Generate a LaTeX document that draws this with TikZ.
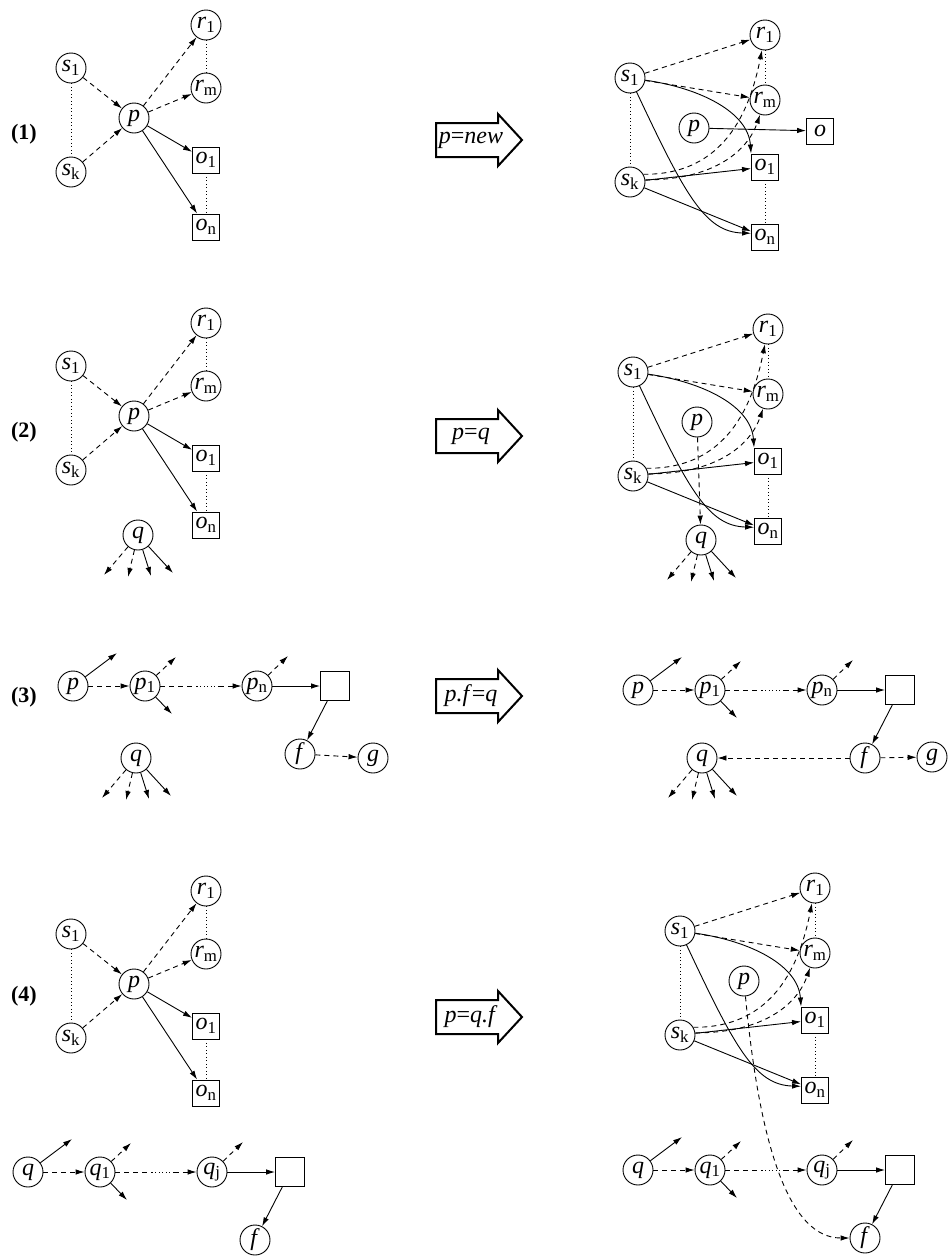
\documentclass[tikz,border=0pt]{standalone}
\usepackage{fontspec}
\setmainfont{Liberation Serif}
\usetikzlibrary{arrows.meta}

\newcommand{\vsub}[2]{\textit{#1}\textsubscript{#2}}

\tikzset{
  >={Latex[length=9pt,width=5.5pt]},
  vnode/.style={circle, draw, line width=0.9pt, minimum size=30pt, inner sep=0pt,
    font=\fontsize{24}{26}\selectfont},
  onode/.style={rectangle, draw, line width=0.9pt, minimum width=27pt, minimum height=26pt,
    inner sep=0pt, font=\fontsize{24}{26}\selectfont},
  dptr/.style={->, line width=0.9pt, dash pattern=on 5pt off 4pt},
  sptr/.style={->, line width=0.9pt},
  ellip/.style={line width=0.9pt, dash pattern=on 1pt off 2.5pt},
  stepno/.style={font=\fontsize{22}{24}\selectfont\bfseries},
  opbox/.style={line width=2pt, line join=miter},
  optext/.style={font=\fontsize{24}{26}\selectfont, inner sep=0pt},
}

\begin{document}
\begin{tikzpicture}[x=1pt, y=-1pt]
  \useasboundingbox (0,0) rectangle (948,1256);

  % ========== left column: before the statement ==========
  \foreach \dy/\nm in {0/La, 298/Lb, 866/Ld} {
    \begin{scope}[shift={(0,\dy)}, name prefix=\nm-]
      \node[vnode] (s1) at (71,68) {\vsub{s}{1}};
      \node[vnode] (sk) at (71,172) {\vsub{s}{k}};
      \node[vnode] (p) at (134,118) {\textit{p}};
      \node[vnode] (r1) at (206,25) {\vsub{r}{1}};
      \node[vnode] (rm) at (206,88) {\vsub{r}{m}};
      \node[onode] (o1) at (206,160) {\vsub{o}{1}};
      \node[onode] (on) at (206,227) {\vsub{o}{n}};
      \draw[ellip] (s1) -- (sk);
      \draw[ellip] (r1) -- (rm);
      \draw[ellip] (o1) -- (on);
      % references into p and out of p
      \draw[dptr] (s1) -- (p);
      \draw[dptr] (sk) -- (p);
      \draw[dptr] (p) -- (r1);
      \draw[dptr] (p) -- (rm);
      \draw[sptr] (p) -- (o1);
      \draw[sptr] (p) -- (on);
    \end{scope}
  }

  % ========== right column: after the statement ==========
  \foreach \dx/\dy/\nm in {0/0/Ra, 3/294/Rb, 50/853/Rd} {
    \begin{scope}[shift={(\dx,\dy)}, name prefix=\nm-]
      \node[vnode] (s1) at (630,78) {\vsub{s}{1}};
      \node[vnode] (sk) at (630,182) {\vsub{s}{k}};
      \node[vnode] (p) at (694,128) {\textit{p}};
      \node[vnode] (r1) at (765,35) {\vsub{r}{1}};
      \node[vnode] (rm) at (765,100) {\vsub{r}{m}};
      \node[onode] (o1) at (765,167) {\vsub{o}{1}};
      \node[onode] (on) at (765,237) {\vsub{o}{n}};
      \draw[ellip] (s1) -- (sk);
      \draw[ellip] (r1) -- (rm);
      \draw[ellip] (o1) -- (on);
      % edges of p handed over to the s nodes
      \draw[dptr] (s1) -- (r1);
      \draw[dptr] (s1) -- (rm);
      \draw[sptr] (s1) .. controls (700,88) and (748,112) .. (o1.north west);
      \draw[sptr] (s1) .. controls (685,195) and (705,232) .. (on.165);
      \draw[dptr] (sk.30) .. controls (725,175) and (750,110) .. (r1);
      \draw[dptr] (sk.8) .. controls (715,180) and (748,150) .. (rm);
      \draw[sptr] (sk) -- (o1);
      \draw[sptr] (sk) -- (on);
    \end{scope}
  }

  % ========== chains p, p1 ... pn (3) and q, q1 ... qj (4) ==========
  \foreach \x/\y/\v/\k/\nm in {73/686/p/n/Lc, 638/690/p/n/Rc, 28/1172/q/j/Ld, 638/1170/q/j/Rd} {
    \begin{scope}[name prefix=\nm-]
      \node[vnode] (n0) at (\x,\y) {\textit{\v}};
      \node[vnode] (n1) at (\x+72,\y) {\vsub{\v}{1}};
      \node[vnode] (n2) at (\x+184,\y) {\vsub{\v}{\k}};
      \node[onode, minimum width=29pt, minimum height=29pt] (box) at (\x+262,\y) {};
      \node[vnode] (f) at (\x+227,\y+68) {\textit{f}};
      \path (n0) ++(44,-33) coordinate (e0);
      \path (n1) ++(31,-29) coordinate (e1);
      \path (n1) ++(27,28) coordinate (e2);
      \path (n2) ++(31,-30) coordinate (e3);
      \path (n1) -- (n2) coordinate[pos=0.45] (m1) coordinate[pos=0.72] (m2);
      \draw[sptr] (n0) -- (e0);
      \draw[dptr] (n0) -- (n1);
      \draw[dptr] (n1) -- (e1);
      \draw[sptr] (n1) -- (e2);
      \draw[dptr, -] (n1) -- (m1);
      \draw[ellip] (m1) -- (m2);
      \draw[dptr] (m2) -- (n2);
      \draw[dptr] (n2) -- (e3);
      \draw[sptr] (n2) -- (box);
      \draw[sptr] (box) -- (f);
    \end{scope}
  }

  % ========== extra nodes per case ==========
  \node[onode] (Ra-o) at (820,131) {\textit{o}};
  \draw[sptr] (Ra-p) -- (Ra-o);

  \node[vnode] (Lb-q) at (138,535) {\textit{q}};
  \node[vnode] (Rb-q) at (701,540) {\textit{q}};
  \draw[dptr] (Rb-p) -- (Rb-q);

  \node[vnode] (Lc-q) at (136,758) {\textit{q}};
  \node[vnode] (Lc-g) at (373,758) {\textit{g}};
  \draw[dptr] (Lc-f) -- (Lc-g);
  \node[vnode] (Rc-q) at (702,758) {\textit{q}};
  \node[vnode] (Rc-g) at (932,757) {\textit{g}};
  \draw[dptr] (Rc-f) -- (Rc-q);
  \draw[dptr] (Rc-f) -- (Rc-g);

  \draw[dptr] (Rd-p) .. controls (760,1150) and (790,1238) .. (Rd-f);

  % fields of q
  \foreach \q in {Lb-q, Rb-q, Lc-q, Rc-q} {
    \foreach \dx/\dy/\k/\s in {-34/40/1/dptr, -10/42/2/dptr, 13/41/3/sptr, 35/38/4/sptr} {
      \path (\q) ++(\dx,\dy) coordinate (\q-e\k);
      \draw[\s] (\q) -- (\q-e\k);
    }
  }

  % ========== case numbers and statements ==========
  \node[stepno] (k1) at (24,134) {(1)};
  \node[stepno] (k2) at (24,432) {(2)};
  \node[stepno] (k3) at (24,697) {(3)};
  \node[stepno] (k4) at (24,996) {(4)};

  \foreach \y/\txt in {140/{\textit{p}=\textit{new}}, 436/{\textit{p}=\textit{q}},
                       696/{\textit{p.f}=\textit{q}}, 1017/{\textit{p}=\textit{q.f}}} {
    \draw[opbox] (436,\y-17) -- (498,\y-17) -- (498,\y-26) -- (522,\y)
      -- (498,\y+26) -- (498,\y+17) -- (436,\y+17) -- cycle;
    \node[optext] (op\y) at (471,\y) {\txt};
  }
\end{tikzpicture}
\end{document}
